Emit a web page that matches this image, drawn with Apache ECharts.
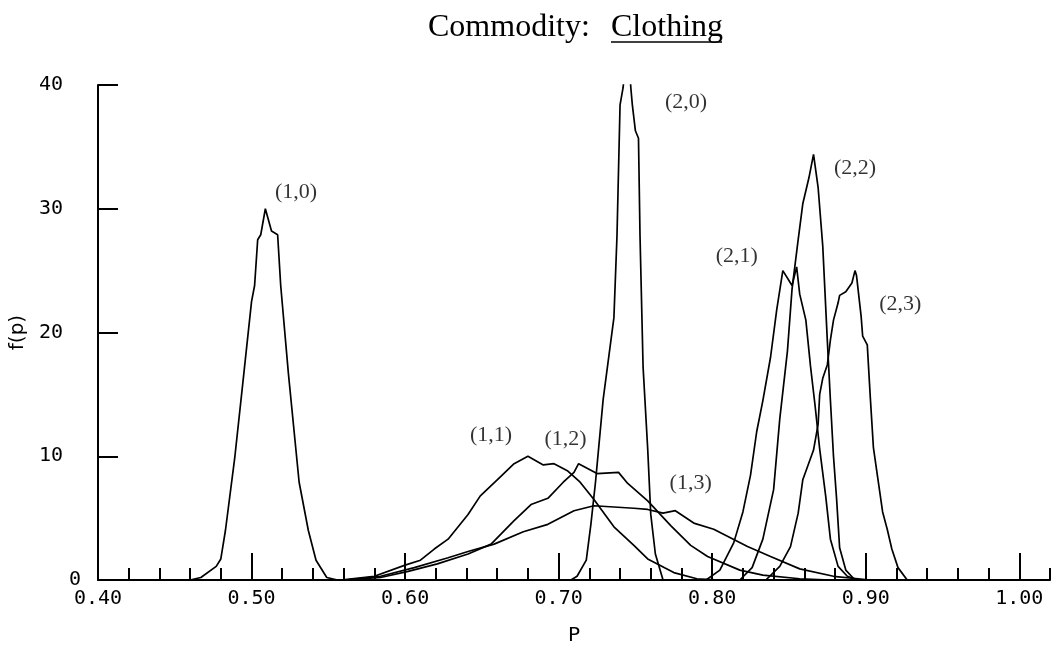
<!DOCTYPE html>
<html><head><meta charset="utf-8">
<script src="https://cdn.jsdelivr.net/npm/echarts@6/dist/echarts.min.js"></script>
<style>html,body{margin:0;padding:0;background:#fff}#c{width:1051px;height:651px}</style>
</head><body><div id="c"></div>
<script>
// Tick values
const xTickLabels = [0.40, 0.50, 0.60, 0.70, 0.80, 0.90, 1.00];
const xMajorTicks = [0.50, 0.60, 0.70, 0.80, 0.90, 1.00];
const xMinorTicks = [0.42,0.44,0.46,0.48,0.52,0.54,0.56,0.58,0.62,0.64,0.66,0.68,0.72,0.74,0.76,0.78,0.82,0.84,0.86,0.88,0.92,0.94,0.96,0.98,1.02];
const yTickLabels = [0, 10, 20, 30, 40];

// Curves: p values and f(p) values
const p10 = [0.460,0.467,0.477,0.480,0.483,0.489,0.495,0.500,0.502,0.504,0.506,0.509,0.513,0.517,0.519,0.524,0.531,0.537,0.542,0.549,0.556];
const f10 = [0,0.2,1.1,1.7,4.0,9.8,16.7,22.5,23.8,27.5,27.9,30.0,28.2,27.9,23.8,16.7,7.9,4.0,1.6,0.2,0];

const p11 = [0.558,0.580,0.600,0.610,0.619,0.628,0.641,0.649,0.660,0.671,0.680,0.690,0.697,0.706,0.714,0.723,0.736,0.749,0.758,0.775,0.790,0.805];
const f11 = [0,0.3,1.2,1.6,2.5,3.3,5.3,6.8,8.1,9.4,10.0,9.3,9.4,8.8,7.9,6.5,4.3,2.8,1.7,0.6,0.1,0];

const p12 = [0.561,0.584,0.602,0.621,0.641,0.656,0.671,0.682,0.693,0.703,0.710,0.713,0.725,0.739,0.745,0.758,0.773,0.786,0.797,0.818,0.833,0.857,0.877];
const f12 = [0,0.2,0.7,1.3,2.1,2.9,4.8,6.1,6.6,7.9,8.7,9.4,8.6,8.7,7.8,6.4,4.4,2.8,1.9,0.8,0.4,0.1,0];

const p13 = [0.561,0.584,0.606,0.628,0.641,0.658,0.677,0.693,0.710,0.723,0.736,0.749,0.758,0.768,0.776,0.788,0.801,0.823,0.838,0.857,0.879,0.903];
const f13 = [0,0.3,1.0,1.8,2.3,2.9,3.9,4.5,5.6,6.0,5.9,5.8,5.7,5.4,5.6,4.6,4.1,2.7,1.9,0.9,0.3,0];

const p20 = [0.708,0.712,0.718,0.721,0.724,0.729,0.736,0.738,0.740,0.742,0.745,0.747,0.748,0.750,0.752,0.753,0.755,0.758,0.760,0.763,0.768];
const f20 = [0,0.3,1.6,4.5,7.9,14.6,21.2,27.8,38.4,39.8,44,39.8,38.4,36.3,35.7,27.8,17.2,10.6,5.3,2.1,0];

const p21 = [0.796,0.805,0.814,0.820,0.825,0.829,0.833,0.838,0.842,0.846,0.852,0.855,0.857,0.861,0.864,0.867,0.870,0.874,0.877,0.882,0.888,0.895];
const f21 = [0,0.8,3.0,5.5,8.5,12.0,14.5,18.0,21.8,25.0,23.8,25.3,23.1,21.0,17.3,14.1,10.6,6.7,3.3,1.1,0.3,0];

const p22 = [0.818,0.826,0.833,0.840,0.844,0.849,0.852,0.856,0.859,0.863,0.866,0.869,0.872,0.875,0.877,0.879,0.881,0.883,0.887,0.893];
const f22 = [0,1.0,3.3,7.3,13.0,18.5,23.5,27.5,30.4,32.5,34.4,31.7,27.0,19.3,14.5,10.0,6.6,2.6,0.8,0];

const p23 = [0.835,0.844,0.851,0.856,0.859,0.866,0.869,0.870,0.872,0.875,0.877,0.879,0.882,0.883,0.887,0.891,0.893,0.894,0.897,0.898,0.901,0.903,0.905,0.908,0.911,0.914,0.917,0.921,0.927];
const f23 = [0,1.1,2.7,5.4,8.1,10.5,12.6,15.0,16.3,17.4,19.4,21.0,22.4,23.0,23.3,24.0,25.0,24.6,21.3,19.7,19.0,14.7,10.7,8.1,5.5,4.1,2.5,1.0,0];

// Curve labels and where they sit (data coordinates)
const curveNames = ['(1,0)', '(2,0)', '(2,2)', '(2,1)', '(2,3)', '(1,1)', '(1,2)', '(1,3)'];
const labelP = [0.529, 0.783, 0.893, 0.816, 0.9225, 0.656, 0.7045, 0.786];
const labelF = [31.3, 38.6, 33.3, 26.2, 22.3, 11.7, 11.4, 7.8];

const curves = [[p10,f10],[p11,f11],[p12,f12],[p13,f13],[p20,f20],[p21,f21],[p22,f22],[p23,f23]];

const mono = '"DejaVu Sans Mono", monospace';
const serif = '"Liberation Serif", "Times New Roman", serif';

const chart = echarts.init(document.getElementById('c'), null, {renderer: 'canvas'});
const series = curves.map(([ps, fs]) => ({
  type: 'line',
  data: ps.map((p, i) => [p, fs[i]]),
  showSymbol: false,
  symbol: 'none',
  clip: true,
  silent: true,
  lineStyle: {color: '#000', width: 1.7},
  animation: false
}));
series.push({
  type: 'scatter',
  data: labelP.map((p, i) => [p, labelF[i], curveNames[i]]),
  symbolSize: 1,
  itemStyle: {color: 'rgba(0,0,0,0)'},
  silent: true,
  animation: false,
  label: {
    show: true, position: 'inside',
    formatter: (prm) => prm.value[2],
    fontFamily: serif, fontSize: 22, color: '#000'
  }
});

chart.setOption({
  backgroundColor: '#fff',
  animation: false,
  grid: {left: 97, right: 1, top: 85, bottom: 62, containLabel: false},
  xAxis: [{
    type: 'value', min: 0.4, max: 1.02, position: 'bottom',
    axisLine: {show: true, onZero: false, lineStyle: {color: '#000', width: 2}},
    axisTick: {show: true, inside: true, length: 27, customValues: xMajorTicks, lineStyle: {color: '#000', width: 2}},
    axisLabel: {show: true, customValues: xTickLabels, formatter: v => v.toFixed(2), margin: 9,
      fontFamily: mono, fontSize: 20, color: '#000'},
    splitLine: {show: false},
    name: 'P', nameLocation: 'middle', nameGap: 46,
    nameTextStyle: {fontFamily: '"DejaVu Sans", sans-serif', fontSize: 20, color: '#000'}
  }, {
    type: 'value', min: 0.4, max: 1.02, position: 'bottom',
    axisLine: {show: false},
    axisTick: {show: true, inside: true, length: 12, customValues: xMinorTicks, lineStyle: {color: '#000', width: 2}},
    axisLabel: {show: false},
    splitLine: {show: false}
  }],
  yAxis: {
    type: 'value', min: 0, max: 40, interval: 10,
    axisLine: {show: true, lineStyle: {color: '#000', width: 2}},
    axisTick: {show: true, inside: true, length: 20, customValues: yTickLabels, lineStyle: {color: '#000', width: 2}},
    axisLabel: {
      show: true, margin: 17, customValues: yTickLabels,
      formatter: v => v === 0 ? '{z|0}' : '{n|' + v + '}',
      rich: {
        z: {fontFamily: mono, fontSize: 20, color: '#000'},
        n: {fontFamily: mono, fontSize: 20, color: '#000', padding: [0, 18, 0, 0]}
      }
    },
    splitLine: {show: false},
    name: 'f(p)', nameLocation: 'middle', nameGap: 50, nameRotate: 90,
    nameTextStyle: {fontFamily: '"DejaVu Sans", sans-serif', fontSize: 20, color: '#000'}
  },
  graphic: [
    {type: 'text', left: 428, top: 12, style: {text: 'Commodity:', font: '32px ' + serif, fill: '#000'}},
    {type: 'text', left: 611, top: 12, style: {text: 'Clothing', font: '32px ' + serif, fill: '#000'}},
    {type: 'line', shape: {x1: 611, y1: 42, x2: 722, y2: 42}, style: {stroke: '#000', lineWidth: 1.5}}
  ],
  series: series
});
</script>
</body></html>
